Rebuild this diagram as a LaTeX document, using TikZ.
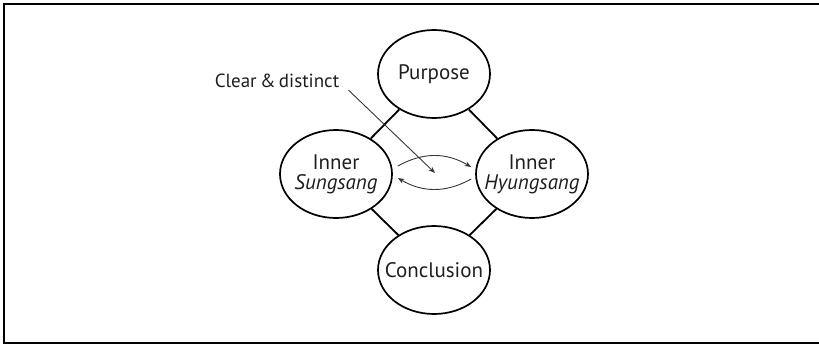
\documentclass[tikz,border=0pt]{standalone}
\usepackage{fontspec}
\setmainfont{PT Sans}
\usepackage{tikz}
\usetikzlibrary{shapes.geometric, arrows.meta, positioning}
\definecolor{inkgray}{RGB}{30, 30, 30}
\definecolor{arrowgray}{RGB}{55, 55, 55}

\tikzset{
  bubble/.style={ellipse, draw=black, line width=1.7pt, minimum width=112pt, minimum height=88pt,
    inner xsep=-14pt, inner ysep=0pt, align=center, text=inkgray, font=\fontsize{21}{20}\selectfont},
  link/.style={line width=1.8pt, black},
  flow/.style={-{Stealth[length=6.5pt, width=5pt]}, line width=0.9pt, arrowgray}
}

\begin{document}
\begin{tikzpicture}[x=1pt, y=-1pt]
  \useasboundingbox (0,0) rectangle (819,345);
  \draw[line width=2pt] (819,4) -- (4,4) -- (4,343) -- (819,343);

  % four circles
  \node[bubble] (purp) at (434, 74) {Purpose};
  \node[bubble] (sung) at (336, 174) {Inner\\\textit{Sungsang}};
  \node[bubble] (hyung) at (532, 174) {Inner\\\textit{Hyungsang}};
  \node[bubble] (concl) at (434, 270) {Conclusion};

  \draw[link] (purp) -- (sung);
  \draw[link] (purp) -- (hyung);
  \draw[link] (concl) -- (sung);
  \draw[link] (concl) -- (hyung);

  % exchange
  \draw[flow] ([xshift=5pt, yshift=8pt]sung.east) to[bend left=30] ([xshift=-4pt, yshift=7pt]hyung.west);
  \draw[flow] ([xshift=-4pt, yshift=-5pt]hyung.west) to[bend left=30] ([xshift=5pt, yshift=-4pt]sung.east);

  % label
  \node[text=inkgray, font=\fontsize{19}{21}\selectfont, inner sep=2pt] (clear) at (277, 81) {Clear\hspace{0.18em}\&\hspace{0.18em}distinct};
  \coordinate (tip) at (435, 173);
  \draw[flow] ([xshift=7pt]clear.south east) -- (tip);
\end{tikzpicture}
\end{document}
